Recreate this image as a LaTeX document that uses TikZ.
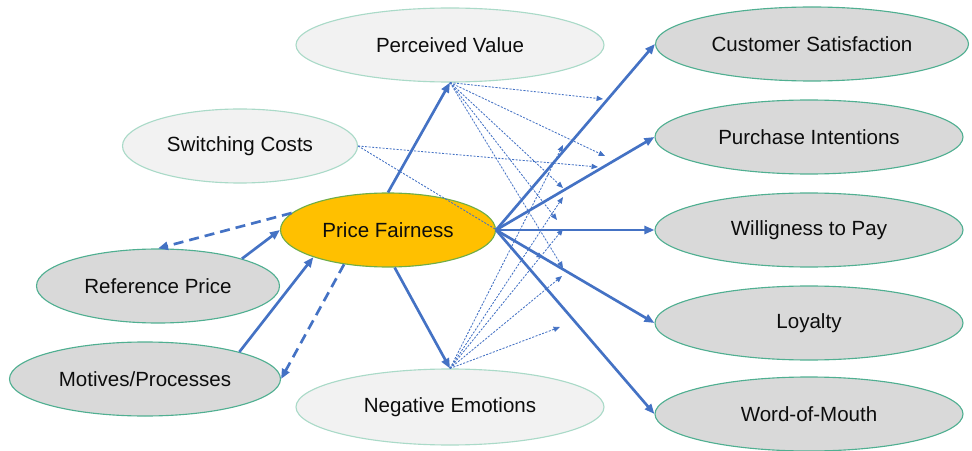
\documentclass[tikz,border=0pt]{standalone}
\usepackage{fontspec}
\setmainfont{Liberation Sans}
\usetikzlibrary{shapes.geometric}
\usetikzlibrary{arrows.meta}

\definecolor{arrowblue}{RGB}{68,114,196}
\definecolor{boxgrey}{RGB}{217,217,217}
\definecolor{boxlight}{RGB}{242,242,242}
\definecolor{pfgold}{RGB}{255,192,0}
\definecolor{rimgreen}{RGB}{80,175,145}
\definecolor{rimlight}{RGB}{170,218,200}
\definecolor{pfrim}{RGB}{112,173,71}

\begin{document}
\begin{tikzpicture}
    \tikzstyle{factor}     = [ellipse,draw=rimgreen,line width=0.8pt,fill=boxgrey,inner sep=0pt,
                              minimum width=7.7cm,minimum height=1.85cm,
                              font=\fontsize{14.6}{16}\selectfont,text=black!95]
    \tikzstyle{moderator}  = [factor,draw=rimlight,fill=boxlight]
    \tikzstyle{central}    = [factor,draw=pfrim,fill=pfgold]

    \tikzstyle{effect}     = [-{Triangle[length=0.25cm,width=0.2cm]},arrowblue,line width=1.9pt]
    \tikzstyle{feedback}   = [effect,dash pattern=on 0.25cm off 0.15cm]
    \tikzstyle{moderation} = [-{Triangle[length=0.16cm,width=0.13cm]},arrowblue,line width=0.6pt,
                              dash pattern=on 1.5pt off 1pt]

    \useasboundingbox (0,0) rectangle (24.3,11.25);

    % antecedents and moderators
    \node[moderator]                              (pv)  at (11.25,10.125) {Perceived Value};
    \node[moderator,minimum width=5.875cm]        (sc)  at (6.0,7.6)      {Switching Costs};
    \node[central,minimum width=5.375cm]          (pf)  at (9.7,5.5)      {Price Fairness};
    \node[factor,minimum width=6.075cm]           (rp)  at (3.95,4.1)     {Reference Price};
    \node[factor,minimum width=6.775cm]           (mp)  at (3.625,1.775)  {Motives/Processes};
    \node[moderator,minimum height=1.9cm]         (ne)  at (11.25,1.075)  {Negative Emotions};

    % outcomes
    \node[factor,minimum width=7.825cm]           (cs)  at (20.3,10.15)   {Customer Satisfaction};
    \node[factor]                                 (pi)  at (20.225,7.825) {Purchase Intentions};
    \node[factor]                                 (wtp) at (20.225,5.5)   {Willigness to Pay};
    \node[factor]                                 (loy) at (20.225,3.175) {Loyalty};
    \node[factor]                                 (wom) at (20.225,0.9)   {Word-of-Mouth};

    % points where moderating arrows end
    \coordinate (pv1) at (15.075,8.775);
    \coordinate (pv2) at (15.125,7.35);
    \coordinate (pv3) at (14.075,6.55);
    \coordinate (pv4) at (13.925,5.75);
    \coordinate (pv5) at (14.075,4.55);
    \coordinate (sc1) at (14.95,7.075);
    \coordinate (sc2) at (13.575,4.8);
    \coordinate (ne1) at (14.075,7.625);
    \coordinate (ne2) at (14.075,6.325);
    \coordinate (ne3) at (14.075,5.525);
    \coordinate (ne4) at (14.05,4.35);
    \coordinate (ne5) at (14.0,3.075);

    \draw[moderation] (pv.south) -- (pv1);
    \draw[moderation] (pv.south) -- (pv2);
    \draw[moderation] (pv.south) -- (pv3);
    \draw[moderation] (pv.south) -- (pv4);
    \draw[moderation] (pv.south) -- (pv5);
    \draw[moderation] (sc.east)  -- (sc1);
    \draw[moderation] (sc.east)  -- (sc2);
    \draw[moderation] (ne.north) -- (ne1);
    \draw[moderation] (ne.north) -- (ne2);
    \draw[moderation] (ne.north) -- (ne3);
    \draw[moderation] (ne.north) -- (ne4);
    \draw[moderation] (ne.north) -- (ne5);

    \draw[effect]   (pf.north) -- (pv.south);
    \draw[effect]   (pf.-80)   -- (ne.north);
    \draw[effect]   (rp.18)    -- (pf.west);
    \draw[effect]   (mp.16)    -- (pf.200);
    \draw[feedback] (pf.170)   -- (rp.north);
    \draw[feedback] (pf.218)   -- (mp.east);

    \draw[effect] (pf.east) -- (cs.west);
    \draw[effect] (pf.east) -- (pi.west);
    \draw[effect] (pf.east) -- (wtp.west);
    \draw[effect] (pf.east) -- (loy.west);
    \draw[effect] (pf.east) -- (wom.west);
\end{tikzpicture}
\end{document}
